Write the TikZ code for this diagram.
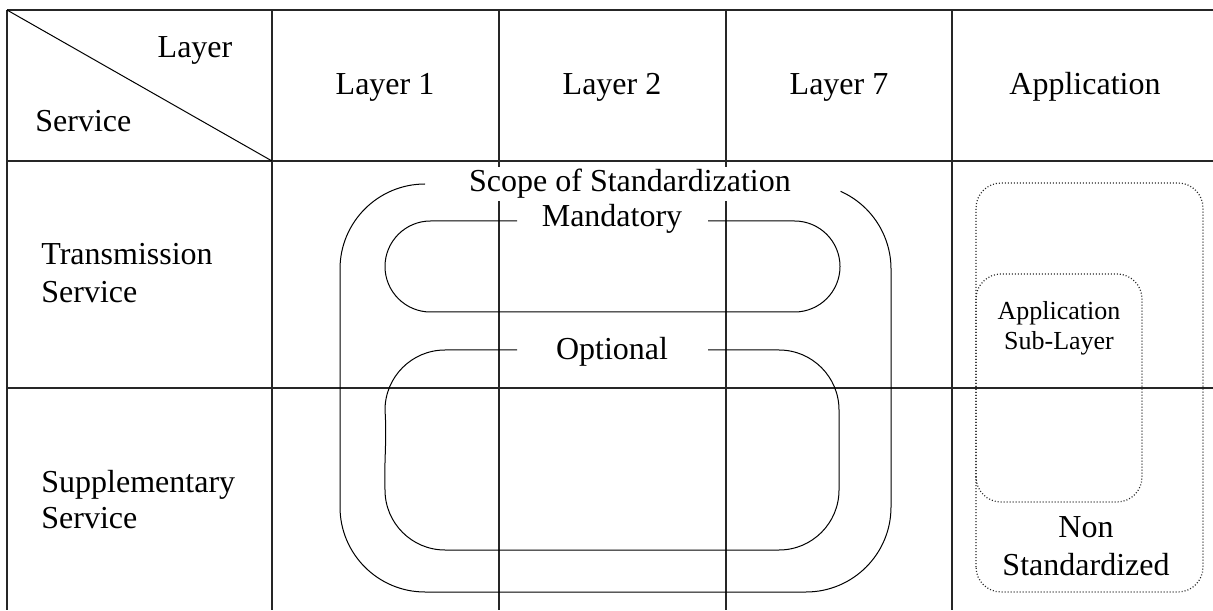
\documentclass[tikz,border=0pt]{standalone}
\usepackage{fontspec}
\setmainfont{Liberation Serif}
\begin{document}
\begin{tikzpicture}[x=0.5pt,y=0.5pt,
  gridline/.style={line width=0.8pt, black!85},
  scopeline/.style={line width=0.5pt, black},
  dotbox/.style={line width=0.6pt, black!85, dash pattern=on 0.5pt off 1pt, rounded corners=12.5pt},
  lbl/.style={font=\fontsize{16}{19}\selectfont, inner sep=0pt},
  smalllbl/.style={font=\fontsize{13}{15}\selectfont, inner sep=0pt}
]
\useasboundingbox (0,0) rectangle (1213,610);
% table grid
\draw[gridline] (7,600) -- (1213,600);
\draw[gridline] (7,449) -- (1213,449);
\draw[gridline] (7,222) -- (1213,222);
\foreach \x in {7,272,499,726,952} \draw[gridline] (\x,600) -- (\x,0);
\draw[scopeline] (7,600) -- (272,449);
% scope of standardization
\draw[scopeline] (425,426) arc[start angle=90,end angle=180,radius=85] -- (340,103)
  arc[start angle=180,end angle=270,radius=85] -- (806,18)
  arc[start angle=270,end angle=360,radius=85] -- (891,341)
  arc[start angle=0,end angle=66,radius=85];
% mandatory
\draw[scopeline] (517,389) -- (430.5,389) arc[start angle=90,end angle=270,radius=45.5]
  -- (794.5,298) arc[start angle=-90,end angle=90,radius=45.5] -- (708,389);
% optional
\draw[scopeline] (517,260) -- (445,260) arc[start angle=90,end angle=180,radius=60]
  .. controls (387,170) and (384,150) .. (385,120) arc[start angle=180,end angle=270,radius=60]
  -- (779,60) arc[start angle=270,end angle=360,radius=60]
  -- (839,200) arc[start angle=0,end angle=90,radius=60] -- (708,260);
% application boxes
\draw[dotbox] (976,18) rectangle (1203,427);
\draw[dotbox] (976,108) rectangle (1142,336);
% labels
\node[lbl, anchor=base] (layer) at (195,552) {Layer};
\node[lbl, anchor=base west] (service) at (35,478) {Service};
\node[lbl, anchor=base] (l1) at (385,515) {Layer 1};
\node[lbl, anchor=base] (l2) at (612,515) {Layer 2};
\node[lbl, anchor=base] (l7) at (839,515) {Layer 7};
\node[lbl, anchor=base] (app) at (1085,515) {Application};
\node[lbl, anchor=base west] (trans) at (41,345) {\begin{tabular}[t]{@{}l@{}}Transmission\\Service\end{tabular}};
\node[lbl, anchor=base west] (supp) at (41,118) {\fontsize{16}{18}\selectfont\begin{tabular}[t]{@{}l@{}}Supplementary\\Service\end{tabular}};
\node[lbl, anchor=base, fill=white, inner sep=1pt] (scope) at (630,418) {Scope of Standardization};
\node[lbl, anchor=base] (mand) at (612,383) {Mandatory};
\node[lbl, anchor=base] (opt) at (612,250) {Optional};
\node[smalllbl, anchor=base] (asl) at (1059,290) {\begin{tabular}[t]{@{}c@{}}Application\\Sub-Layer\end{tabular}};
\node[lbl, anchor=base] (nonstd) at (1086,73) {\begin{tabular}[t]{@{}c@{}}Non\\Standardized\end{tabular}};
\end{tikzpicture}
\end{document}
